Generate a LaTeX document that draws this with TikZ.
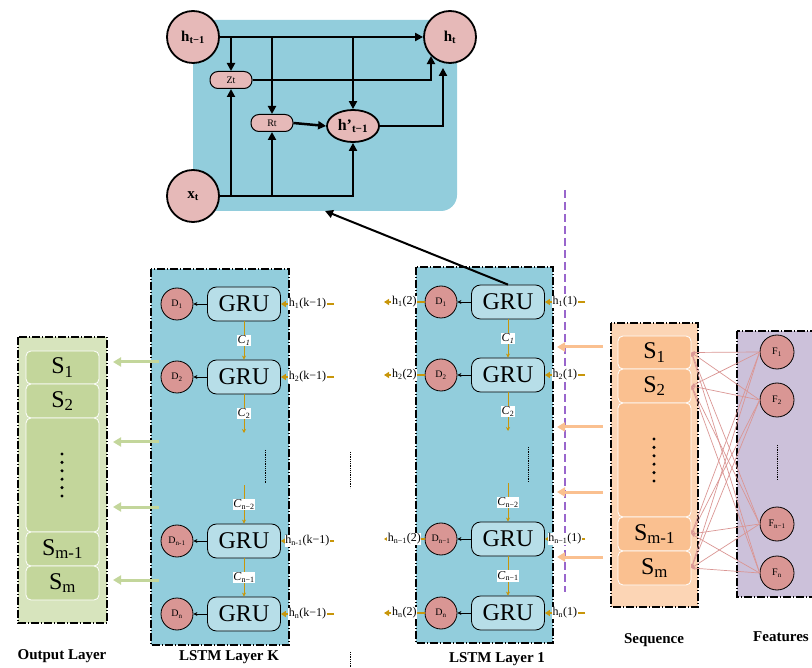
\documentclass[tikz,border=0pt]{standalone}
\usepackage{fontspec}
\setmainfont{Liberation Serif}
\usetikzlibrary{arrows.meta,shapes.geometric,calc}
\definecolor{cellblue}{HTML}{92CDDC}
\definecolor{grublue}{HTML}{B7DEE8}
\definecolor{pinkfill}{HTML}{E6B9B8}
\definecolor{dfill}{HTML}{D99694}
\definecolor{gold}{HTML}{C8960A}
\definecolor{outbg}{HTML}{D7E4BD}
\definecolor{outcell}{HTML}{C3D69B}
\definecolor{seqbg}{HTML}{FCD5B5}
\definecolor{seqcell}{HTML}{FAC090}
\definecolor{featbg}{HTML}{CCC1DA}
\definecolor{purp}{HTML}{9966CC}
\definecolor{linkpink}{HTML}{DA9694}
\newcommand\myfs[1]{\fontsize{#1}{#1}\selectfont}
\begin{document}
\begin{tikzpicture}[x=1pt,y=-1pt,
  panel/.style={draw=black,line width=1.3pt,dash pattern=on 8pt off 2pt on 1pt off 2pt},
  bigc/.style={circle,draw=black,line width=1.8pt,fill=pinkfill,minimum size=52pt,inner sep=0pt,font=\myfs{15}},
  gate/.style={rectangle,rounded corners=8pt,draw=black,line width=1pt,fill=pinkfill,minimum width=42pt,minimum height=17pt,inner sep=0pt,font=\myfs{10}},
  hpn/.style={ellipse,draw=black,line width=1.8pt,fill=pinkfill,minimum width=52pt,minimum height=32pt,inner sep=0pt,font=\myfs{16}},
  cellarr/.style={line width=2.5pt,-{Triangle[length=8pt,width=8pt]}},
  gru/.style={rectangle,rounded corners=9pt,draw=black,line width=0.8pt,fill=grublue,minimum width=73pt,minimum height=34pt,inner sep=0pt,font=\myfs{24}},
  dn/.style={circle,draw=black,line width=0.8pt,fill=dfill,minimum size=32pt,inner sep=0pt,font=\myfs{10}},
  fn/.style={circle,draw=black,line width=0.8pt,fill=dfill,minimum size=34pt,inner sep=0pt,font=\myfs{10}},
  blk/.style={line width=0.8pt,-{Stealth[length=4pt,width=4pt]}},
  goldh/.style={draw=gold,line width=2.4pt,-{Triangle[length=5pt,width=6pt]}},
  goldc/.style={draw=gold,line width=1pt,-{Stealth[length=4pt,width=4pt]}},
  hlab/.style={fill=white,inner sep=0.6pt,font=\myfs{12},text=black},
  clab/.style={fill=white,inner sep=0.8pt,font=\myfs{12},text=black},
  ocell/.style={rectangle,rounded corners=5pt,draw=white,line width=0.8pt,fill=outcell,minimum width=73pt,inner sep=0pt,font=\myfs{24}},
  scell/.style={rectangle,rounded corners=5pt,draw=white,line width=0.8pt,fill=seqcell,minimum width=73pt,inner sep=0pt,font=\myfs{24}},
  greenarr/.style={draw=outcell,line width=3pt,-{Triangle[length=8pt,width=9pt]}},
  orangearr/.style={draw=seqcell,line width=3pt,-{Triangle[length=8pt,width=9pt]}},
  link/.style={draw=linkpink,line width=0.7pt,-{Stealth[length=4pt,width=3pt]}},
  ttl/.style={font=\myfs{15}\bfseries},
  dotline/.style={line width=1pt,dash pattern=on 0.8pt off 1pt}
]
\useasboundingbox (0,0) rectangle (812,668);

% ---------- GRU cell detail ----------
\fill[cellblue,rounded corners=16pt] (193,20) rectangle (457,211);
\node[bigc] (htm1) at (193,37) {\textbf{h\textsubscript{t−1}}};
\node[bigc] (ht) at (450,37) {\textbf{h\textsubscript{t}}};
\node[bigc] (xt) at (193,196) {\textbf{x\textsubscript{t}}};
\node[gate] (zt) at (231,80) {Zt};
\node[gate] (rt) at (272,123) {Rt};
\node[hpn] (hp) at (353,126) {\textbf{h’\textsubscript{t−1}}};
\draw[cellarr] (htm1.east) -- (ht.west);
\draw[cellarr] (zt.north |- htm1.east) -- (zt.north);
\draw[cellarr] (rt.north |- htm1.east) -- (rt.north);
\draw[cellarr] (hp.north |- htm1.east) -- (hp.north);
\draw[cellarr] (zt.east) -| (ht.south west);
\draw[cellarr] (hp.east) -| ([xshift=-7pt,yshift=-4pt]ht.south);
\draw[cellarr] (xt.east) -| (hp.south);
\draw[cellarr] (zt.south |- xt.east) -- (zt.south);
\draw[cellarr] (rt.south |- xt.east) -- (rt.south);
\draw[cellarr] (rt.east) -- (hp.west);

% ---------- panels ----------
\filldraw[panel,fill=outbg] (18,337) rectangle (107,623);
\filldraw[panel,fill=cellblue] (151,269) rectangle (289,645);
\filldraw[panel,fill=cellblue] (416,267) rectangle (553,643);
\filldraw[panel,fill=seqbg] (611,323) rectangle (698,607);
\filldraw[panel,fill=featbg] (737,331) rectangle (830,597);

% purple divider (behind labels)
\draw[purp,line width=1.4pt,dash pattern=on 8pt off 4pt] (565,190) -- (565,592);

% ---------- LSTM Layer K ----------
\foreach \i/\y/\s in {1/304/1,2/377/2,3/541/n-1,4/614/n}{
  \node[gru] (k\i) at (244,\y) {GRU};
  \node[dn] (kd\i) at (177,\y) {D\textsubscript{\s}};
  \coordinate (kin\i) at (334,\y);
  \draw[blk] (k\i.west) -- (kd\i.east);
  \draw[goldh] (kin\i) -- (k\i.east) node[hlab,midway] (khl\i) {h\textsubscript{\s}(k−1)};
}
\coordinate (kc2) at (244,433);
\coordinate (kc3) at (244,485);
\draw[goldc] (k1.south) -- (k2.north) node[clab,midway] (kcl1) {\textit{C}\textsubscript{\textit{1}}};
\draw[goldc] (k2.south) -- (kc2) node[clab,midway] (kcl2) {\textit{C}\textsubscript{2}};
\draw[goldc] (kc3) -- (k3.north) node[clab,midway] (kcl3) {\textit{C}\textsubscript{n−2}};
\draw[goldc] (k3.south) -- (k4.north) node[clab,midway] (kcl4) {\textit{C}\textsubscript{n−1}};
\draw[dotline] (265,450) -- (265,483);

% ---------- LSTM Layer 1 ----------
\foreach \i/\y/\s in {1/302/1,2/375/2,3/539/n−1,4/613/n}{
  \node[gru] (g\i) at (508,\y) {GRU};
  \node[dn] (gd\i) at (441,\y) {D\textsubscript{\s}};
  \coordinate (gin\i) at (585,\y);
  \coordinate (gout\i) at (384,\y);
  \draw[blk] (g\i.west) -- (gd\i.east);
  \draw[goldh] (gin\i) -- (g\i.east) node[hlab,midway] (grl\i) {h\textsubscript{\s}(1)};
  \draw[goldh] (gd\i.west) -- (gout\i) node[hlab,pos=0.5] (gll\i) {h\textsubscript{\s}(2)};
}
\coordinate (gc2) at (508,431);
\coordinate (gc3) at (508,483);
\draw[goldc] (g1.south) -- (g2.north) node[clab,midway] (gcl1) {\textit{C}\textsubscript{\textit{1}}};
\draw[goldc] (g2.south) -- (gc2) node[clab,midway] (gcl2) {\textit{C}\textsubscript{2}};
\draw[goldc] (gc3) -- (g3.north) node[clab,midway] (gcl3) {\textit{C}\textsubscript{n−2}};
\draw[goldc] (g3.south) -- (g4.north) node[clab,midway] (gcl4) {\textit{C}\textsubscript{n−1}};
\draw[dotline] (528,447) -- (528,482);

% dots between layers
\draw[dotline] (350,452) -- (350,488);
\draw[dotline] (350,652) -- (350,670);

% link from layer 1 to GRU cell
\coordinate (celltip) at (325,211);
\draw[line width=2pt,-{Triangle[length=8pt,width=8pt]}] (g1.north) -- (celltip);

% ---------- Output layer ----------
\node[ocell,minimum height=33pt] (o1) at (62.5,367.5) {S\textsubscript{1}};
\node[ocell,minimum height=34pt] (o2) at (62.5,401) {S\textsubscript{2}};
\node[ocell,minimum height=114pt] (o3) at (62.5,475) {};
\node[ocell,minimum height=34pt] (o4) at (62.5,549) {S\textsubscript{m-1}};
\node[ocell,minimum height=34pt] (o5) at (62.5,583) {S\textsubscript{m}};
\foreach \k in {0,...,5}{\fill (62,454+8.4*\k) circle (1.7pt);}

% ---------- Sequence ----------
\node[scell,minimum height=33pt] (s1) at (654.5,352.5) {S\textsubscript{1}};
\node[scell,minimum height=34pt] (s2) at (654.5,386) {S\textsubscript{2}};
\node[scell,minimum height=114pt] (s3) at (654.5,460) {};
\node[scell,minimum height=34pt] (s4) at (654.5,534) {S\textsubscript{m-1}};
\node[scell,minimum height=34pt] (s5) at (654.5,568) {S\textsubscript{m}};
\foreach \k in {0,...,5}{\fill (654,439+8.4*\k) circle (1.7pt);}

% ---------- Features ----------
\node[fn] (f1) at (777,352) {F\textsubscript{1}};
\node[fn] (f2) at (777,400) {F\textsubscript{2}};
\node[fn] (f3) at (777,524) {F\textsubscript{n−1}};
\node[fn] (f4) at (777,573) {F\textsubscript{n}};
\draw[dotline,line width=0.9pt] (777,445) -- (777,480);
\foreach \f in {f1,f2,f3,f4}{
  \foreach \s in {s1,s2,s4,s5}{
    \draw[link] (\f.west) -- (\s.east);
  }
}

% ---------- green arrows (Layer K -> Output) ----------
\foreach \i/\y in {1/362,2/442,3/507,4/580}{
  \coordinate (ga\i) at (159,\y);
  \coordinate (gb\i) at (113,\y);
  \draw[greenarr] (ga\i) -- (gb\i);
}
% ---------- orange arrows (Sequence -> Layer 1) ----------
\foreach \i/\y in {1/347,2/427,3/492,4/557}{
  \coordinate (oa\i) at (603,\y);
  \coordinate (ob\i) at (557,\y);
  \draw[orangearr] (oa\i) -- (ob\i);
}

% ---------- titles ----------
\node[ttl] (tout) at (62,656) {Output Layer};
\node[ttl] (tk) at (229,657) {LSTM Layer K};
\node[ttl] (t1) at (497,659) {LSTM Layer 1};
\node[ttl] (tseq) at (654,640) {Sequence};
\node[ttl] (tfeat) at (781,637) {Features};
\end{tikzpicture}
\end{document}
